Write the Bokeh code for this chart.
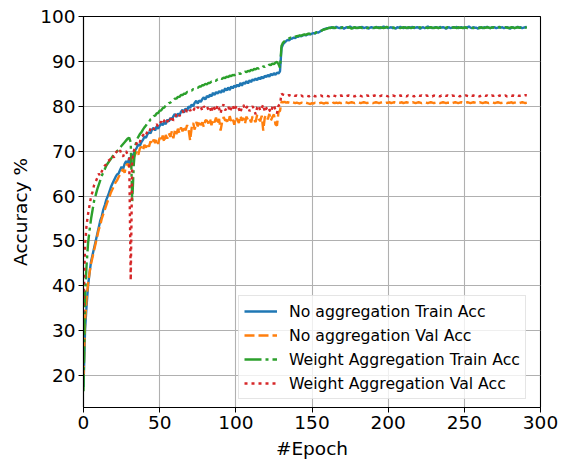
from bokeh.plotting import figure
from bokeh.models import Range1d, FixedTicker, Legend, LegendItem
from bokeh.embed import file_html
from bokeh.resources import INLINE

# ---------------- data ----------------
no_agg_train = [
    17.5, 30.0, 35.5, 40.0, 43.0, 45.5, 47.0, 48.5, 50.0, 51.5, 53.0,
    54.5, 55.5, 57.0, 58.0, 59.2, 60.0, 61.0, 62.0, 62.8, 63.5,
    64.2, 64.8, 65.0, 65.8, 66.5, 66.0, 67.2, 67.8, 67.0, 68.6,
    66.5, 68.8, 69.5, 70.2, 70.8, 71.5, 71.2, 72.0, 72.5, 73.2,
    73.0, 73.8, 74.2, 74.0, 74.8, 75.2, 74.6, 75.5, 75.0, 75.6,
    76.2, 75.8, 76.5, 76.0, 77.0, 76.6, 77.4, 77.0, 77.8, 78.3,
    77.6, 78.4, 78.0, 78.8, 79.2, 78.6, 79.5, 79.0, 80.0, 79.6,
    80.4, 80.0, 80.8, 81.2, 80.6, 81.3, 81.0, 81.6, 82.0, 81.5,
    82.3, 82.0, 82.6, 82.2, 83.0, 82.5, 83.2, 82.8, 83.4, 83.0,
    83.6, 83.2, 84.0, 83.5, 84.2, 83.6, 84.4, 84.0, 84.6, 84.3,
    84.8, 84.4, 85.2, 84.6, 85.3, 85.0, 85.6, 85.1, 85.8, 85.4,
    86.0, 85.7, 86.2, 85.8, 86.4, 86.0, 86.6, 86.2, 86.8, 86.5,
    87.0, 86.6, 87.2, 86.9, 87.4, 87.0, 87.5, 87.3, 87.8,
    93.0, 93.8, 94.2, 94.5, 94.8, 94.7, 95.0, 95.1, 95.3, 95.2, 95.5,
    95.5, 95.7, 95.6, 95.8, 95.9, 95.8, 96.0, 96.1, 96.0, 96.2,
    96.3, 96.2, 96.5, 96.4, 96.6, 96.8, 97.0, 97.2, 97.3, 97.4,
    97.4, 97.5, 97.6, 97.4, 97.5, 97.7, 97.5, 97.4, 97.6, 97.5,
    97.3, 97.5, 97.6, 97.5, 97.8, 97.5, 97.4, 97.6, 97.5, 97.4,
    97.6, 97.5, 97.7, 97.4, 97.5, 97.6, 97.3, 97.5, 97.6, 97.5,
    97.4, 97.7, 97.5, 97.6, 97.4, 97.5, 97.8, 97.5, 97.6, 97.4,
    97.5, 97.6, 97.4, 97.5, 97.3, 97.6, 97.5, 97.7, 97.5, 97.4,
    97.6, 97.5, 97.4, 97.6, 97.5, 97.7, 97.4, 97.5, 97.6, 97.5,
    97.3, 97.5, 97.6, 97.4, 97.5, 97.8, 97.5, 97.6, 97.4, 97.5,
    97.6, 97.5, 97.4, 97.7, 97.5, 97.6, 97.5, 97.3, 97.5, 97.6,
    97.4, 97.5, 97.6, 97.5, 97.7, 97.4, 97.5, 97.6, 97.5, 97.4,
    97.6, 97.5, 97.8, 97.5, 97.4, 97.6, 97.5, 97.5, 97.3, 97.6,
    97.5, 97.4, 97.6, 97.5, 97.7, 97.5, 97.4, 97.6, 97.5, 97.6,
    97.4, 97.5, 97.7, 97.5, 97.6, 97.4, 97.5, 97.6, 97.5, 97.3,
    97.5, 97.6, 97.4, 97.5, 97.7, 97.5, 97.6, 97.4, 97.5, 97.6, 97.7,
]

no_agg_val = [
    20.0, 32.0, 37.0, 40.5, 43.0, 45.0, 46.5, 48.0, 49.5, 51.0, 52.5,
    53.5, 55.0, 56.0, 57.0, 58.0, 59.0, 59.8, 60.8, 61.5, 62.3,
    63.0, 63.5, 64.2, 64.8, 65.5, 66.0, 65.2, 66.8, 67.2, 66.4,
    67.5, 68.0, 68.6, 69.3, 70.0, 69.2, 70.6, 71.0, 70.2, 71.4,
    70.8, 71.8, 71.0, 72.2, 71.5, 72.6, 71.8, 72.8, 71.6, 73.0,
    72.3, 73.5, 72.0, 73.6, 72.8, 74.0, 73.2, 74.4, 72.9, 74.6,
    73.8, 75.0, 74.0, 75.3, 74.4, 75.6, 74.6, 75.8, 74.8, 72.4,
    75.2, 76.3, 74.8, 76.5, 75.5, 76.8, 75.8, 76.4, 75.4, 76.9,
    76.8, 76.2, 77.3, 75.8, 77.0, 76.4, 77.5, 76.0, 77.2, 74.6,
    76.5, 77.6, 76.8, 77.0, 76.2, 77.8, 76.6, 77.2, 75.9, 77.6,
    77.0, 76.3, 77.9, 76.8, 77.4, 76.1, 77.7, 76.9, 77.3, 76.4,
    77.8, 77.0, 76.5, 78.1, 77.2, 76.7, 77.9, 74.6, 77.5, 78.0,
    77.1, 78.3, 76.8, 77.6, 78.2, 76.0, 75.7, 78.7,
    79.0,
    81.0, 80.9, 81.0, 80.8, 80.9, 80.8, 80.7, 80.9, 80.8, 80.7,
    80.8, 80.7, 80.6, 80.8, 80.7, 80.6, 80.8, 80.7, 80.6, 80.5,
    80.7, 80.6, 80.8, 80.7, 80.6, 80.7, 80.8, 80.7, 80.6, 80.8,
    80.7, 80.8, 80.7, 80.6, 80.8, 80.7, 80.8, 80.7, 80.8, 80.7,
    80.8, 80.7, 80.9, 80.8, 80.7, 80.8, 80.9, 80.8, 80.7, 80.8,
    80.9, 80.8, 80.7, 80.8, 80.9, 80.8, 80.7, 80.8, 80.9, 80.8,
    80.7, 80.8, 80.9, 80.8, 80.7, 80.8, 80.9, 80.8, 80.7, 80.8,
    80.8, 80.9, 80.7, 80.8, 80.9, 80.8, 80.7, 80.8, 80.8, 80.9,
    80.7, 80.8, 80.9, 80.8, 80.7, 80.8, 80.9, 80.8, 80.7, 80.8,
    80.9, 80.8, 80.7, 80.8, 80.9, 80.8, 80.7, 80.8, 80.9, 80.8,
    80.7, 80.8, 80.9, 80.8, 80.7, 80.8, 80.9, 80.8, 80.7, 80.8,
    80.8, 80.9, 80.7, 80.8, 80.9, 80.8, 80.7, 80.8, 80.9, 80.8,
    80.7, 80.8, 80.9, 80.8, 80.7, 80.8, 80.9, 80.8, 80.7, 80.8,
    80.9, 80.8, 80.7, 80.8, 80.9, 80.8, 80.7, 80.8, 80.9, 80.8,
    80.7, 80.8, 80.9, 80.8, 80.7, 80.8, 80.9, 80.8, 80.7, 80.8,
    80.8, 80.9, 80.7, 80.8, 80.9, 80.8, 80.7, 80.8, 80.9, 80.8,
    80.7, 80.8,
]

weight_agg_train = [
    16.5, 38.0, 44.5, 49.5, 52.5, 55.0, 57.0, 59.0, 60.2, 61.5, 62.5,
    63.5, 64.5, 65.3, 66.0, 66.8, 67.3, 67.8, 68.3, 68.8, 69.2,
    69.6, 70.0, 70.3, 70.8, 71.2, 71.6, 72.0, 72.4, 72.8, 73.0,
    72.0, 58.8, 67.0, 71.2, 72.5, 73.2, 73.8, 74.2, 74.8, 75.3,
    75.7, 76.3, 76.5, 77.1, 77.3, 77.8, 77.9, 78.4, 78.5, 79.0,
    79.1, 79.6, 79.7, 80.2, 80.3, 80.7, 80.8, 81.2, 81.3, 81.7,
    81.7, 82.1, 82.1, 82.5, 82.5, 82.8, 82.8, 83.2, 83.2, 83.5,
    83.5, 83.8, 83.8, 84.1, 84.1, 84.4, 84.4, 84.7, 84.7, 85.0,
    84.9, 85.2, 85.2, 85.5, 85.4, 85.7, 85.7, 86.0, 85.9, 86.2,
    86.1, 86.4, 86.3, 86.6, 86.5, 86.8, 86.7, 87.0, 86.9, 87.1,
    87.0, 87.3, 87.2, 87.5, 87.4, 87.7, 87.6, 87.9, 87.8, 88.1,
    88.0, 88.3, 88.2, 88.5, 88.4, 88.7, 88.6, 88.9, 88.8, 89.1,
    89.0, 89.3, 89.2, 89.5, 89.4, 89.7, 89.9, 89.4, 88.6,
    93.5, 94.2, 94.5, 94.8, 95.0, 95.1, 95.3, 95.2, 95.4, 95.5, 95.6,
    95.7, 95.8, 95.7, 95.9, 96.0, 95.9, 96.1, 96.2, 96.1, 96.3,
    96.4, 96.3, 96.5, 96.6, 96.6, 96.8, 97.0, 97.1, 97.2, 97.3,
    97.5, 97.4, 97.5, 97.6, 97.4, 97.5, 97.6, 97.5, 97.4, 97.6,
    97.5, 97.4, 97.5, 97.6, 97.5, 97.3, 97.5, 97.6, 97.4, 97.5,
    97.5, 97.6, 97.4, 97.5, 97.6, 97.4, 97.5, 97.5, 97.6, 97.4,
    97.5, 97.6, 97.5, 97.4, 97.6, 97.5, 97.4, 97.5, 97.7, 97.5,
    97.4, 97.5, 97.6, 97.4, 97.5, 97.5, 97.6, 97.4, 97.5, 97.6,
    97.5, 97.4, 97.6, 97.5, 97.4, 97.5, 97.6, 97.5, 97.3, 97.5,
    97.6, 97.4, 97.5, 97.6, 97.5, 97.4, 97.5, 97.6, 97.5, 97.4,
    97.5, 97.6, 97.4, 97.5, 97.5, 97.6, 97.4, 97.5, 97.6, 97.5,
    97.4, 97.5, 97.6, 97.5, 97.4, 97.6, 97.5, 97.5, 97.4, 97.6,
    97.5, 97.4, 97.5, 97.6, 97.5, 97.4, 97.6, 97.5, 97.5, 97.4,
    97.6, 97.5, 97.4, 97.5, 97.6, 97.5, 97.4, 97.5, 97.6, 97.5,
    97.4, 97.5, 97.6, 97.5, 97.4, 97.5, 97.6, 97.5, 97.4, 97.5,
    97.6, 97.5, 97.4, 97.5, 97.6, 97.5, 97.5, 97.4, 97.6, 97.5, 97.6,
]

weight_agg_val = [
    34.0, 49.0, 53.5, 56.0, 58.0, 60.0, 61.0, 62.5, 63.2, 64.0, 65.0,
    64.5, 65.5, 66.2, 66.8, 67.0, 67.8, 68.0, 68.5, 69.0, 68.6,
    69.5, 70.0, 69.6, 70.2, 69.4, 68.8, 69.8, 70.0, 69.2, 68.5,
    41.2, 68.0, 70.0, 71.0, 71.8, 72.4, 72.0, 73.2, 73.5, 74.0,
    73.6, 74.5, 74.2, 75.0, 75.4, 74.8, 75.6, 76.0, 75.5, 76.2,
    76.6, 76.0, 76.8, 77.2, 76.5, 77.5, 77.0, 77.8, 76.8, 77.4,
    78.2, 78.5, 77.8, 78.6, 79.0, 78.4, 79.2, 78.8, 79.4, 79.0,
    79.5, 79.0, 79.6, 79.2, 79.8, 79.4, 79.9, 79.0, 80.0, 79.6,
    80.0, 79.2, 79.8, 78.6, 80.2, 79.5, 78.9, 80.3, 79.6, 78.4,
    79.9, 80.4, 79.1, 79.7, 80.1, 78.8, 79.6, 80.3, 79.0, 79.8,
    80.2, 79.4, 78.5, 79.9, 80.3, 79.2, 79.7, 80.1, 78.9, 79.6,
    80.0, 79.3, 78.2, 79.8, 80.2, 79.0, 79.6, 80.4, 78.7, 79.5,
    80.0, 79.2, 78.6, 79.8, 80.3, 79.1, 78.4, 80.1,
    80.5,
    82.8, 82.6, 82.5, 82.6, 82.4, 82.5, 82.3, 82.4, 82.5, 82.3,
    82.4, 82.2, 82.3, 82.4, 82.2, 82.3, 82.4, 82.3, 82.2, 82.4,
    82.3, 82.4, 82.2, 82.3, 82.4, 82.3, 82.4, 82.2, 82.3, 82.4,
    82.3, 82.2, 82.4, 82.3, 82.4, 82.3, 82.2, 82.4, 82.3, 82.4,
    82.3, 82.4, 82.2, 82.3, 82.4, 82.3, 82.4, 82.3, 82.2, 82.4,
    82.3, 82.4, 82.3, 82.2, 82.4, 82.3, 82.4, 82.3, 82.4, 82.2,
    82.3, 82.4, 82.3, 82.4, 82.2, 82.3, 82.4, 82.3, 82.4, 82.3,
    82.2, 82.4, 82.3, 82.4, 82.3, 82.2, 82.4, 82.3, 82.4, 82.3,
    82.4, 82.3, 82.2, 82.4, 82.3, 82.4, 82.3, 82.2, 82.4, 82.3,
    82.4, 82.3, 82.4, 82.2, 82.3, 82.4, 82.3, 82.4, 82.3, 82.2,
    82.4, 82.3, 82.4, 82.3, 82.2, 82.4, 82.3, 82.4, 82.3, 82.4,
    82.3, 82.2, 82.4, 82.3, 82.4, 82.3, 82.4, 82.2, 82.3, 82.4,
    82.3, 82.4, 82.3, 82.2, 82.4, 82.3, 82.4, 82.3, 82.4, 82.3,
    82.2, 82.4, 82.3, 82.4, 82.3, 82.4, 82.2, 82.3, 82.4, 82.3,
    82.4, 82.3, 82.2, 82.4, 82.3, 82.4, 82.3, 82.4, 82.2, 82.3,
    82.4, 82.3, 82.4, 82.3, 82.2, 82.4, 82.3, 82.4, 82.5, 82.4,
    82.5, 82.4,
]

series_names = [
    "No aggregation Train Acc",
    "No aggregation Val Acc",
    "Weight Aggregation Train Acc",
    "Weight Aggregation Val Acc",
]
x_ticks = [0, 50, 100, 150, 200, 250, 300]
y_ticks = [20, 30, 40, 50, 60, 70, 80, 90, 100]

# ---------------- figure ----------------
FONT = "DejaVu Sans"
p = figure(width=561, height=464, output_backend="svg", toolbar_location=None,
           x_range=Range1d(0, 300), y_range=Range1d(12.9, 100),
           min_border_left=83, min_border_right=21, min_border_top=16,
           min_border_bottom=57)
p.background_fill_color = "white"
p.border_fill_color = "white"
p.outline_line_color = "black"
p.outline_line_width = 1.1

for ax, ticks, label in ((p.xaxis[0], x_ticks, "#Epoch"), (p.yaxis[0], y_ticks, "Accuracy %")):
    ax.ticker = FixedTicker(ticks=ticks)
    ax.axis_label = label
    ax.axis_label_text_font = FONT
    ax.axis_label_text_font_size = "18.5px"
    ax.axis_label_text_font_style = "normal"
    ax.axis_label_text_color = "black"
    ax.major_label_text_font = FONT
    ax.major_label_text_font_size = "18.5px"
    ax.major_label_text_color = "black"
    ax.major_tick_out = 5
    ax.major_tick_in = 0
    ax.minor_tick_out = 0
    ax.minor_tick_in = 0
    ax.major_tick_line_color = "black"
    ax.axis_line_color = "black"
    ax.axis_line_width = 1.1
    ax.major_label_standoff = 3
    ax.axis_label_standoff = 6

p.xgrid.ticker = FixedTicker(ticks=x_ticks)
p.ygrid.ticker = FixedTicker(ticks=y_ticks)
for g in (p.xgrid[0], p.ygrid[0]):
    g.grid_line_color = "#b0b0b0"
    g.grid_line_width = 1.1

colors = ["#1f77b4", "#ff7f0e", "#2ca02c", "#d62728"]
dashes = ["solid", "10 4", "17 4 3 4", "3 4"]
data = [no_agg_train, no_agg_val, weight_agg_train, weight_agg_val]

items = []
for name, ys, c, d in zip(series_names, data, colors, dashes):
    xs = list(range(len(ys)))
    r = p.line(xs, ys, line_color=c, line_width=2.4, line_dash=d)
    items.append(LegendItem(label=name, renderers=[r]))

legend = Legend(items=items, location=(155, 8))
legend.label_text_font = FONT
legend.label_text_font_size = "15.7px"
legend.label_text_color = "black"
legend.glyph_width = 33
legend.glyph_height = 20
legend.label_height = 20
legend.label_standoff = 12
legend.spacing = 4
legend.padding = 5
legend.margin = 0
legend.border_line_color = "#cccccc"
legend.border_line_width = 1
legend.background_fill_color = "white"
legend.background_fill_alpha = 0.8
p.add_layout(legend, "center")

open("out.html", "w").write(file_html(p, INLINE))
